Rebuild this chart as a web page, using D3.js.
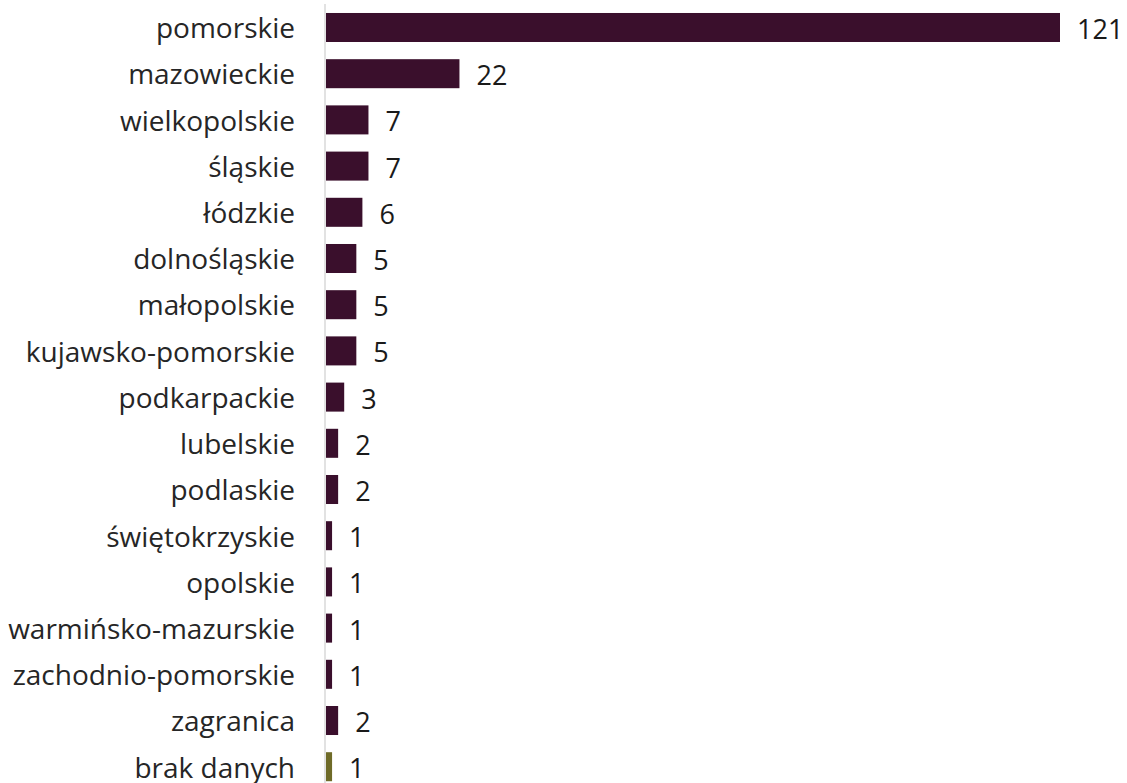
<!DOCTYPE html>
<html>
<head>
<meta charset="utf-8">
<script src="https://cdn.jsdelivr.net/npm/d3@7"></script>
<style>
  html, body { margin: 0; padding: 0; background: #fff; overflow: hidden; }
</style>
</head>
<body>
<div id="chart"></div>
<script>
const regions = ["pomorskie", "mazowieckie", "wielkopolskie", "śląskie", "łódzkie",
  "dolnośląskie", "małopolskie", "kujawsko-pomorskie", "podkarpackie", "lubelskie",
  "podlaskie", "świętokrzyskie", "opolskie", "warmińsko-mazurskie",
  "zachodnio-pomorskie", "zagranica", "brak danych"];
const counts = [121, 22, 7, 7, 6, 5, 5, 5, 3, 2, 2, 1, 1, 1, 1, 2, 1];

const W = 1127, H = 783;
const left = 326, right = 1060;

const svg = d3.select("#chart").append("svg")
  .attr("width", W).attr("height", H);

const x = d3.scaleLinear().domain([0, 121]).range([left, right]);
const y = d3.scaleBand().domain(regions).range([-4.2, 798.4]).padding(0.372);

// axis line
svg.append("line")
  .attr("x1", left - 1).attr("x2", left - 1)
  .attr("y1", 4).attr("y2", H)
  .attr("stroke", "#d9d9d9").attr("stroke-width", 1.5);

svg.selectAll("rect.bar")
  .data(regions)
  .join("rect")
  .attr("class", "bar")
  .attr("x", x(0))
  .attr("y", d => y(d))
  .attr("width", (d, i) => x(counts[i]) - x(0))
  .attr("height", y.bandwidth())
  .attr("fill", d => d === "brak danych" ? "#6f6b28" : "#3a0f2c");

const font = "'Open Sans', sans-serif";

svg.selectAll("text.cat")
  .data(regions)
  .join("text")
  .attr("class", "cat")
  .attr("x", 295)
  .attr("y", d => y(d) + y.bandwidth() / 2 + 1)
  .attr("dy", "0.35em")
  .attr("text-anchor", "end")
  .attr("font-family", font)
  .attr("font-size", 28)
  .attr("fill", "#262626")
  .text(d => d);

svg.selectAll("text.val")
  .data(regions)
  .join("text")
  .attr("class", "val")
  .attr("x", (d, i) => x(counts[i]) + 17)
  .attr("y", d => y(d) + y.bandwidth() / 2 + 2)
  .attr("dy", "0.35em")
  .attr("font-family", font)
  .attr("font-size", 27)
  .attr("fill", "#1a1a1a")
  .text((d, i) => counts[i]);
</script>
</body>
</html>
